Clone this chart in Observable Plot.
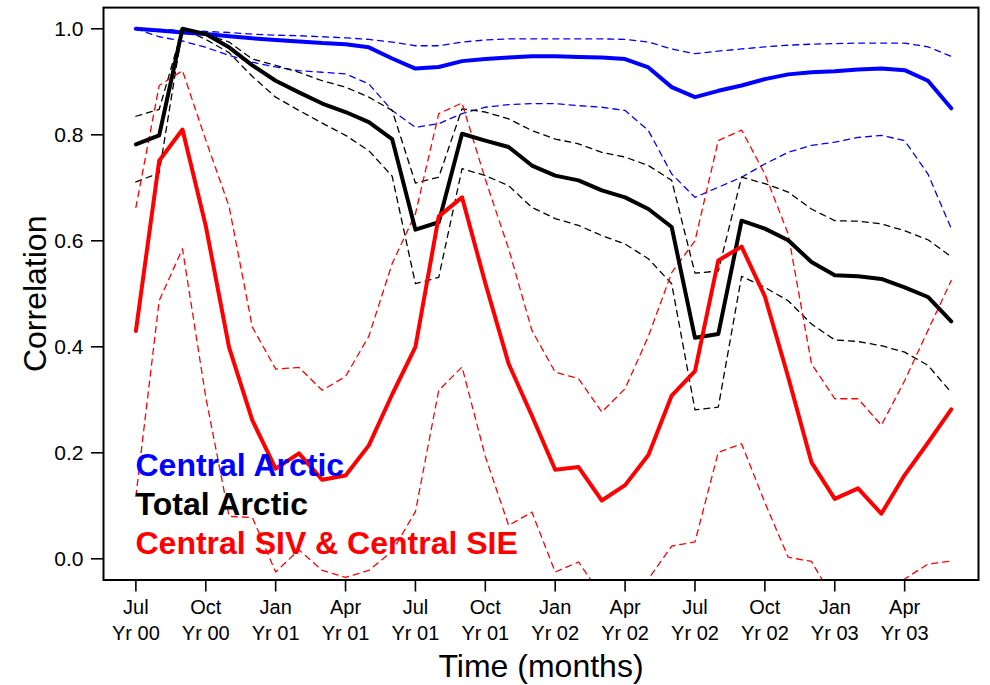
<!DOCTYPE html>
<html>
<head>
<meta charset="utf-8">
<script src="https://cdn.jsdelivr.net/npm/d3@7"></script>
<script src="https://cdn.jsdelivr.net/npm/@observablehq/plot@0.6"></script>
<style>
  html, body { margin: 0; padding: 0; background: #fff; }
  #chart { width: 990px; height: 685px; }
</style>
</head>
<body>
<div id="chart"></div>
<script>
// Month index 0 = Jul Yr 00 ... 35 = Jun Yr 03
const months = Array.from({length: 36}, (_, i) => i);

const tickMonths = [0, 3, 6, 9, 12, 15, 18, 21, 24, 27, 30, 33];
const tickMonthNames = ["Jul", "Oct", "Jan", "Apr", "Jul", "Oct", "Jan", "Apr", "Jul", "Oct", "Jan", "Apr"];
const tickYears = ["Yr 00", "Yr 00", "Yr 01", "Yr 01", "Yr 01", "Yr 01", "Yr 02", "Yr 02", "Yr 02", "Yr 02", "Yr 03", "Yr 03"];

const yTicks = [0, 0.2, 0.4, 0.6, 0.8, 1.0];
const yTickLabels = ["0.0", "0.2", "0.4", "0.6", "0.8", "1.0"];

const legendLabels = ["Central Arctic", "Total Arctic", "Central SIV & Central SIE"];

// Central Arctic (blue)
const centralArctic = [1.0, 0.997, 0.993, 0.99, 0.986, 0.982, 0.979, 0.976, 0.973, 0.971, 0.965, 0.944,
  0.925, 0.928, 0.939, 0.943, 0.946, 0.948, 0.948, 0.947, 0.946, 0.943, 0.927, 0.89,
  0.871, 0.883, 0.893, 0.905, 0.914, 0.918, 0.92, 0.923, 0.925, 0.922, 0.902, 0.85];
const centralArcticUpper = [1.0, 0.999, 0.997, 0.995, 0.993, 0.99, 0.988, 0.987, 0.985, 0.983, 0.98, 0.975,
  0.968, 0.968, 0.975, 0.979, 0.981, 0.981, 0.981, 0.981, 0.981, 0.98, 0.975, 0.962,
  0.953, 0.958, 0.962, 0.966, 0.969, 0.971, 0.972, 0.973, 0.973, 0.973, 0.966, 0.948];
const centralArcticLower = [1.0, 0.985, 0.977, 0.965, 0.95, 0.937, 0.928, 0.921, 0.918, 0.915, 0.896, 0.846,
  0.814, 0.821, 0.84, 0.852, 0.857, 0.859, 0.859, 0.855, 0.852, 0.846, 0.808, 0.726,
  0.682, 0.701, 0.72, 0.745, 0.767, 0.78, 0.786, 0.795, 0.799, 0.789, 0.726, 0.623];

// Total Arctic (black)
const totalArctic = [0.782, 0.799, 1.0, 0.99, 0.965, 0.931, 0.902, 0.88, 0.859, 0.843, 0.824, 0.792,
  0.621, 0.635, 0.802, 0.789, 0.777, 0.742, 0.723, 0.714, 0.695, 0.682, 0.66, 0.626,
  0.417, 0.424, 0.638, 0.623, 0.601, 0.56, 0.535, 0.533, 0.528, 0.512, 0.494, 0.448];
const totalArcticUpper = [0.835, 0.848, 1.0, 0.99, 0.975, 0.943, 0.931, 0.918, 0.902, 0.89, 0.871, 0.846,
  0.709, 0.72, 0.849, 0.843, 0.83, 0.808, 0.792, 0.783, 0.767, 0.758, 0.742, 0.714,
  0.539, 0.543, 0.72, 0.708, 0.692, 0.66, 0.638, 0.637, 0.632, 0.619, 0.602, 0.57];
const totalArcticLower = [0.711, 0.728, 1.0, 0.98, 0.955, 0.91, 0.871, 0.846, 0.822, 0.799, 0.77, 0.722,
  0.519, 0.531, 0.736, 0.723, 0.704, 0.663, 0.642, 0.629, 0.61, 0.594, 0.566, 0.519,
  0.281, 0.286, 0.533, 0.512, 0.487, 0.443, 0.413, 0.41, 0.402, 0.39, 0.365, 0.314];

// Central SIV & Central SIE (red)
const sivSie = [0.43, 0.751, 0.81, 0.628, 0.399, 0.261, 0.17, 0.199, 0.149, 0.157, 0.214, 0.31,
  0.4, 0.646, 0.682, 0.52, 0.368, 0.27, 0.168, 0.173, 0.11, 0.139, 0.196, 0.308,
  0.354, 0.563, 0.589, 0.495, 0.343, 0.182, 0.113, 0.133, 0.085, 0.158, 0.219, 0.282];
const sivSieUpper = [0.663, 0.893, 0.921, 0.79, 0.665, 0.437, 0.358, 0.361, 0.318, 0.344, 0.42, 0.557,
  0.651, 0.84, 0.86, 0.716, 0.585, 0.431, 0.352, 0.34, 0.277, 0.321, 0.42, 0.54,
  0.6, 0.789, 0.809, 0.726, 0.613, 0.368, 0.302, 0.302, 0.252, 0.336, 0.431, 0.525];
const sivSieLower = [0.118, 0.487, 0.585, 0.305, 0.08, 0.078, -0.025, 0.017, -0.022, -0.035, -0.022, 0.014,
  0.089, 0.318, 0.362, 0.193, 0.063, 0.088, -0.025, -0.006, -0.07, -0.09, -0.038, 0.024,
  0.032, 0.201, 0.217, 0.106, 0.003, -0.005, -0.08, -0.1, -0.08, -0.038, -0.01, -0.004];

const seriesColors = ["#0000ff", "#000000", "#ff0000"];

const toRows = (values) => values.map((v, i) => ({month: months[i], value: v}));

const dashedSeries = [
  [centralArcticUpper, seriesColors[0]],
  [centralArcticLower, seriesColors[0]],
  [totalArcticUpper, seriesColors[1]],
  [totalArcticLower, seriesColors[1]],
  [sivSieUpper, seriesColors[2]],
  [sivSieLower, seriesColors[2]]
];
const solidSeries = [
  [centralArctic, seriesColors[0]],
  [totalArctic, seriesColors[1]],
  [sivSie, seriesColors[2]]
];

const tickLabelMap = new Map(tickMonths.map((m, i) => [m, tickMonthNames[i] + "\n" + tickYears[i]]));
const yLabelMap = new Map(yTicks.map((t, i) => [t, yTickLabels[i]]));

const legendOffsets = [-104, -65, -26];

const chart = Plot.plot({
  width: 990,
  height: 685,
  marginLeft: 103,
  marginRight: 12,
  marginTop: 7.1,
  marginBottom: 105.5,
  style: {fontFamily: "'Liberation Sans', Arial, Helvetica, sans-serif", background: "#fff", color: "#000"},
  x: {domain: [-1.39, 36.17]},
  y: {domain: [-0.04, 1.04]},
  marks: [
    ...dashedSeries.map(([vals, c]) => Plot.line(toRows(vals), {
      x: "month", y: "value", stroke: c, strokeWidth: 1.3, strokeDasharray: "6,5", clip: true
    })),
    ...solidSeries.map(([vals, c]) => Plot.line(toRows(vals), {
      x: "month", y: "value", stroke: c, strokeWidth: 4, strokeLinejoin: "round", clip: true
    })),
    Plot.frame({stroke: "#000", strokeWidth: 2}),
    Plot.axisX(tickMonths, {
      tickFormat: d => tickLabelMap.get(d),
      tickSize: 12, tickPadding: 3, fontSize: 20, lineHeight: 1.32,
      strokeWidth: 1.6, stroke: "#000", fill: "#000", label: null
    }),
    Plot.axisY(yTicks, {
      tickFormat: d => yLabelMap.get(d),
      tickSize: 12, tickPadding: 8, fontSize: 21,
      strokeWidth: 1.6, stroke: "#000", fill: "#000", label: null
    }),
    Plot.text(["Time (months)"], {
      text: d => d, frameAnchor: "bottom", dy: 96.5, lineAnchor: "bottom",
      fontSize: 32, fill: "#000"
    }),
    Plot.text(["Correlation"], {
      text: d => d, frameAnchor: "left", dx: -68, rotate: -90,
      textAnchor: "middle", lineAnchor: "middle",
      fontSize: 32, fill: "#000"
    }),
    ...legendLabels.map((lab, i) => Plot.text([lab], {
      text: d => d, frameAnchor: "bottom-left", dx: 32, dy: legendOffsets[i],
      textAnchor: "start", lineAnchor: "bottom",
      fontSize: 32, fontWeight: "bold", fill: seriesColors[i]
    }))
  ]
});

document.getElementById("chart").appendChild(chart);
</script>
</body>
</html>
